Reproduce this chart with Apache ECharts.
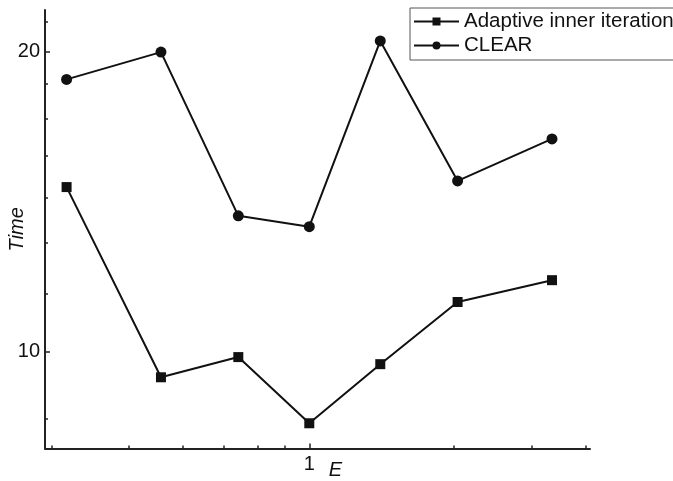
<!DOCTYPE html>
<html>
<head>
<meta charset="utf-8">
<script src="https://cdn.jsdelivr.net/npm/echarts@6/dist/echarts.min.js"></script>
<style>
html,body{margin:0;padding:0;background:#fff;}
#chart{width:673px;height:481px;}
</style>
</head>
<body>
<div id="chart"></div>
<script>
// Data
var xValues = [0.25, 0.4286, 0.6667, 1, 1.5, 2.333, 4];
var adaptive = [14.63, 9.43, 9.88, 8.48, 9.72, 11.22, 11.80];
var clear = [18.76, 19.98, 13.69, 13.35, 20.5, 14.84, 16.35];
var seriesNames = ['Adaptive inner iteration', 'CLEAR'];
// Tick labels / tick positions
var xMajorTicks = [1];
var xMinorTicks = [0.2295, 0.357, 0.486, 0.614, 0.743, 0.871, 2.286, 3.571, 4.857];
var yMajorTicks = [10, 20];
var yMinorTicks = [8.571, 11.429, 12.857, 14.286, 15.714, 17.143, 18.571, 21.429];

var FONT = 'Liberation Sans, Arial, sans-serif';
var xMin = 0.221, xMax = 4.97, yMin = 8.0, yMax = 22.02;

function pairs(xs, ys) { return xs.map(function (x, i) { return [x, ys[i]]; }); }

var chart = echarts.init(document.getElementById('chart'), null, {renderer: 'canvas'});
chart.setOption({
  animation: false,
  backgroundColor: '#ffffff',
  grid: {left: 45, right: 83, top: 10, bottom: 32.5, containLabel: false, outerBoundsMode: 'none'},
  legend: {
    orient: 'vertical',
    left: 410, top: 8,
    padding: [3, 40, 4, 3],
    itemGap: 3,
    itemWidth: 45, itemHeight: 10,
    borderColor: '#555', borderWidth: 1,
    textStyle: {fontFamily: FONT, fontSize: 20.5, color: '#111'},
    data: seriesNames
  },
  xAxis: [{
    type: 'log', logBase: 10, min: xMin, max: xMax,
    name: 'E', nameLocation: 'middle', nameGap: 12, nameMoveOverlap: false,
    nameTextStyle: {fontFamily: FONT, fontSize: 20, fontStyle: 'italic', color: '#111', padding: [0, 0, 0, 36]},
    axisLine: {show: true, onZero: false, lineStyle: {color: '#222', width: 2}},
    axisTick: {show: true, inside: true, length: 5, customValues: xMajorTicks, lineStyle: {color: '#222', width: 1.5}},
    axisLabel: {show: true, customValues: xMajorTicks, margin: 6, fontFamily: FONT, fontSize: 20, color: '#111'},
    splitLine: {show: false}, minorTick: {show: false}
  }, {
    type: 'log', logBase: 10, min: xMin, max: xMax, position: 'bottom',
    axisLine: {show: false},
    axisTick: {show: true, inside: true, length: 3, customValues: xMinorTicks, lineStyle: {color: '#222', width: 1.5}},
    axisLabel: {show: false},
    splitLine: {show: false}
  }],
  yAxis: [{
    type: 'log', logBase: 10, min: yMin, max: yMax,
    name: 'Time', nameLocation: 'middle', nameGap: 18, nameRotate: 90, nameMoveOverlap: false,
    nameTextStyle: {fontFamily: FONT, fontSize: 20, fontStyle: 'italic', color: '#111'},
    axisLine: {show: true, onZero: false, lineStyle: {color: '#222', width: 2}},
    axisTick: {show: true, inside: true, length: 5, customValues: yMajorTicks, lineStyle: {color: '#222', width: 1.5}},
    axisLabel: {show: true, customValues: yMajorTicks, margin: 5, fontFamily: FONT, fontSize: 20, color: '#111'},
    splitLine: {show: false}, minorTick: {show: false}
  }, {
    type: 'log', logBase: 10, min: yMin, max: yMax, position: 'left',
    axisLine: {show: false},
    axisTick: {show: true, inside: true, length: 3, customValues: yMinorTicks, lineStyle: {color: '#222', width: 1.5}},
    axisLabel: {show: false},
    splitLine: {show: false}
  }],
  series: [{
    name: seriesNames[0], type: 'line', xAxisIndex: 0, yAxisIndex: 0,
    data: pairs(xValues, adaptive),
    symbol: 'rect', symbolSize: 10,
    lineStyle: {color: '#111', width: 2},
    itemStyle: {color: '#111'}
  }, {
    name: seriesNames[1], type: 'line', xAxisIndex: 0, yAxisIndex: 0,
    data: pairs(xValues, clear),
    symbol: 'circle', symbolSize: 11,
    lineStyle: {color: '#111', width: 2},
    itemStyle: {color: '#111'}
  }]
});
</script>
</body>
</html>
